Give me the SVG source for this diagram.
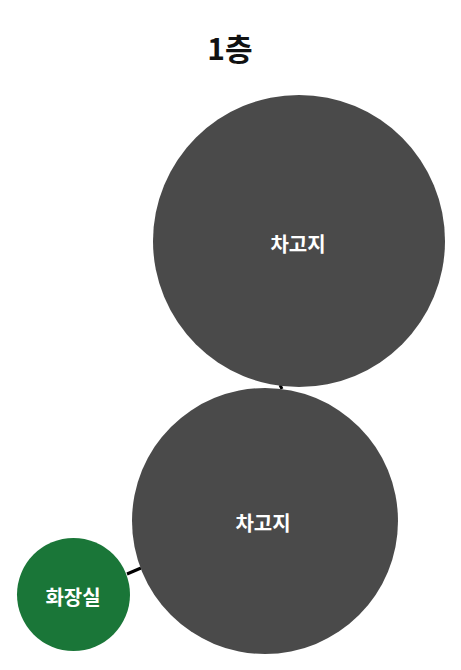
<svg xmlns="http://www.w3.org/2000/svg" width="461" height="670" viewBox="0 0 461 670">
<style>
.lbl{font-family:"Noto Sans CJK KR","Noto Sans",sans-serif;font-weight:bold;font-size:20px;fill:#ffffff;text-anchor:middle;dominant-baseline:central}
.title{font-family:"Noto Sans CJK KR","Noto Sans",sans-serif;font-weight:bold;font-size:30px;fill:#111111;text-anchor:middle;dominant-baseline:central}
.edge{stroke:#000000;stroke-width:3;fill:none}
</style>
<rect width="461" height="670" fill="#ffffff"/>
<text class="title" x="230" y="47">1층</text>
<g id="edges">
<line class="edge" x1="280" y1="385" x2="282" y2="389"/>
<line class="edge" x1="127" y1="574" x2="141" y2="568"/>
</g>
<g id="node-garage1">
<circle cx="299" cy="241" r="146" fill="#4a4a4a"/>
<text class="lbl" x="298" y="243">차고지</text>
</g>
<g id="node-garage2">
<circle cx="265" cy="521" r="133" fill="#4a4a4a"/>
<text class="lbl" x="263" y="522">차고지</text>
</g>
<g id="node-toilet">
<circle cx="73.5" cy="594.5" r="56.5" fill="#1a7638"/>
<text class="lbl" x="73" y="596">화장실</text>
</g>
</svg>
